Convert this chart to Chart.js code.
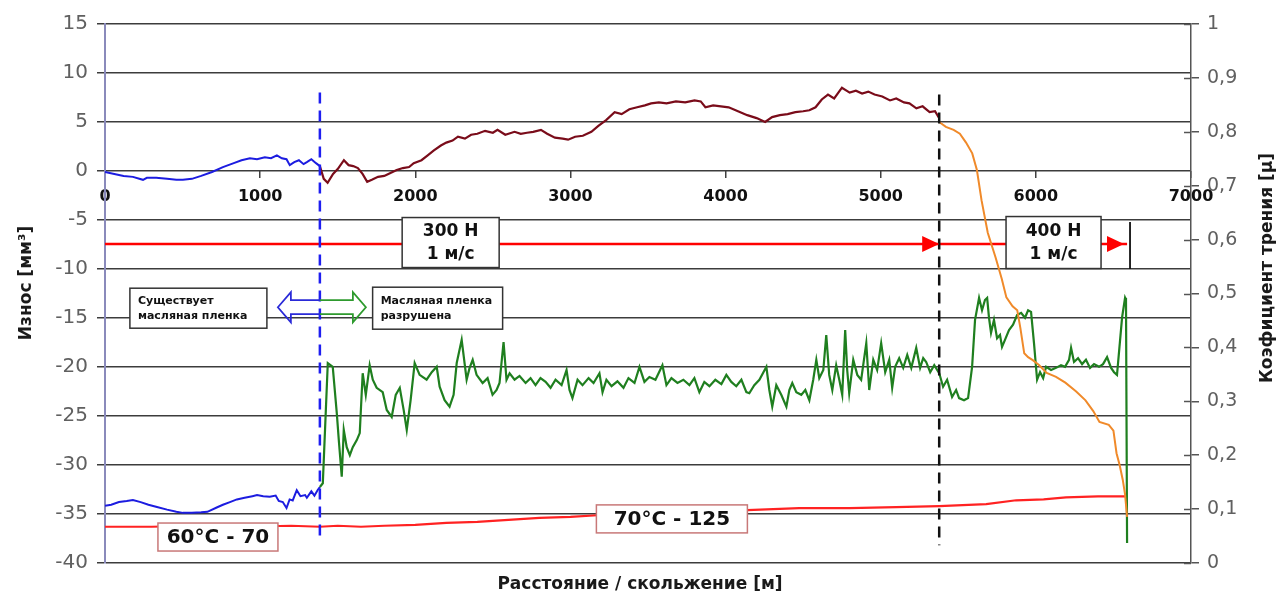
<!DOCTYPE html>
<html>
<head>
<meta charset="utf-8">
<script src="https://cdn.jsdelivr.net/npm/chart.js@4.4.1/dist/chart.umd.min.js"></script>
<style>
  html, body { margin: 0; padding: 0; background: #fff; }
  canvas { display: block; }
</style>
</head>
<body>
<canvas id="chart" width="1285" height="599"></canvas>
<script>
// износ (левая ось), мм³
const wearBlueX = [0, 60, 120, 180, 245, 270, 330, 400, 460, 502, 560, 620, 690, 760, 830, 880, 934, 980, 1030, 1070, 1108, 1140, 1170, 1191, 1220, 1250, 1280, 1301, 1330, 1360, 1385];
const wearBlueY = [-0.1, -0.3, -0.5, -0.6, -0.9, -0.7, -0.7, -0.8, -0.9, -0.9, -0.8, -0.5, -0.1, 0.4, 0.8, 1.1, 1.3, 1.2, 1.4, 1.3, 1.6, 1.3, 1.2, 0.6, 0.9, 1.1, 0.7, 0.9, 1.2, 0.8, 0.5];

const wearRedX = [1385, 1410, 1435, 1470, 1500, 1540, 1570, 1600, 1630, 1660, 1690, 1720, 1760, 1800, 1840, 1880, 1920, 1960, 1990, 2040, 2080, 2120, 2165, 2200, 2240, 2275, 2320, 2360, 2400, 2450, 2500, 2530, 2580, 2640, 2680, 2720, 2760, 2810, 2850, 2900, 2950, 2985, 3030, 3080, 3135, 3180, 3230, 3285, 3330, 3380, 3430, 3480, 3520, 3570, 3620, 3680, 3740, 3800, 3840, 3870, 3920, 3970, 4020, 4080, 4140, 4200, 4255, 4300, 4350, 4400, 4450, 4500, 4540, 4580, 4620, 4660, 4700, 4750, 4800, 4840, 4880, 4920, 4960, 5010, 5060, 5100, 5150, 5185, 5230, 5270, 5315, 5350, 5377];
const wearRedY = [0.5, -0.8, -1.2, -0.3, 0.2, 1.1, 0.6, 0.5, 0.3, -0.3, -1.1, -0.9, -0.6, -0.5, -0.2, 0.1, 0.3, 0.4, 0.8, 1.1, 1.6, 2.1, 2.6, 2.9, 3.1, 3.5, 3.3, 3.7, 3.8, 4.1, 3.9, 4.2, 3.7, 4.0, 3.8, 3.9, 4.0, 4.2, 3.8, 3.4, 3.3, 3.2, 3.5, 3.6, 4.0, 4.6, 5.2, 6.0, 5.8, 6.3, 6.5, 6.7, 6.9, 7.0, 6.9, 7.1, 7.0, 7.2, 7.1, 6.5, 6.7, 6.6, 6.5, 6.1, 5.7, 5.4, 5.0, 5.5, 5.7, 5.8, 6.0, 6.1, 6.2, 6.5, 7.3, 7.8, 7.4, 8.5, 8.0, 8.2, 7.9, 8.1, 7.8, 7.6, 7.2, 7.4, 7.0, 6.9, 6.4, 6.6, 6.0, 6.1, 5.4];

const wearOrangeX = [5377, 5420, 5470, 5510, 5550, 5590, 5620, 5650, 5690, 5740, 5780, 5810, 5850, 5880, 5900, 5925, 5950, 5980, 6020, 6070, 6130, 6190, 6260, 6320, 6370, 6410, 6470, 6500, 6520, 6540, 6560, 6575, 6588];
const wearOrangeY = [5.0, 4.5, 4.2, 3.8, 2.9, 1.8, 0.1, -3.0, -6.3, -8.8, -11.0, -12.9, -13.8, -14.2, -16.0, -18.6, -19.0, -19.3, -19.8, -20.6, -21.0, -21.6, -22.5, -23.4, -24.5, -25.6, -25.9, -26.5, -28.8, -30.0, -31.5, -33.0, -35.3];

// температура (левая ось)
const tempX = [0, 300, 600, 900, 1200, 1385, 1500, 1650, 1800, 2000, 2200, 2400, 2600, 2800, 3000, 3200, 3500, 3800, 4140, 4475, 4800, 5100, 5377, 5680, 5873, 6050, 6194, 6400, 6555, 6588];
const tempY = [-36.3, -36.3, -36.2, -36.3, -36.2, -36.3, -36.2, -36.3, -36.2, -36.1, -35.9, -35.8, -35.6, -35.4, -35.3, -35.1, -34.9, -34.8, -34.6, -34.4, -34.4, -34.3, -34.2, -34.0, -33.6, -33.5, -33.3, -33.2, -33.2, -33.2];

// коэффициент трения (правая ось)
const fricBlueX = [0, 40, 90, 140, 180, 230, 280, 335, 400, 460, 502, 560, 620, 660, 720, 760, 805, 850, 900, 950, 980, 1020, 1062, 1100, 1120, 1146, 1170, 1190, 1210, 1236, 1260, 1290, 1301, 1330, 1350, 1370, 1385];
const fricBlueY = [0.106, 0.108, 0.113, 0.115, 0.117, 0.113, 0.108, 0.104, 0.099, 0.095, 0.093, 0.093, 0.094, 0.095, 0.103, 0.108, 0.113, 0.118, 0.121, 0.124, 0.126, 0.124, 0.123, 0.125, 0.115, 0.113, 0.102, 0.118, 0.116, 0.135, 0.124, 0.126, 0.121, 0.133, 0.125, 0.135, 0.141];

const fricGreenX = [1385, 1404, 1436, 1468, 1494, 1507, 1526, 1539, 1558, 1578, 1597, 1623, 1642, 1661, 1681, 1706, 1726, 1751, 1790, 1816, 1848, 1874, 1900, 1925, 1945, 1970, 1996, 2028, 2073, 2106, 2138, 2157, 2189, 2221, 2247, 2267, 2299, 2331, 2350, 2370, 2395, 2434, 2466, 2498, 2524, 2543, 2569, 2588, 2608, 2640, 2672, 2711, 2743, 2775, 2807, 2840, 2872, 2904, 2943, 2975, 2994, 3013, 3046, 3078, 3117, 3149, 3187, 3207, 3232, 3265, 3303, 3342, 3374, 3413, 3445, 3477, 3509, 3548, 3593, 3619, 3651, 3690, 3728, 3767, 3799, 3831, 3863, 3896, 3934, 3973, 4005, 4037, 4069, 4102, 4134, 4153, 4185, 4218, 4263, 4282, 4301, 4327, 4359, 4392, 4411, 4430, 4456, 4488, 4514, 4540, 4565, 4585, 4604, 4630, 4649, 4668, 4688, 4713, 4733, 4752, 4771, 4784, 4797, 4823, 4849, 4874, 4907, 4926, 4952, 4977, 5003, 5029, 5055, 5074, 5093, 5119, 5145, 5171, 5197, 5229, 5254, 5274, 5293, 5319, 5345, 5377, 5402, 5428, 5460, 5486, 5505, 5537, 5563, 5589, 5608, 5634, 5653, 5672, 5686, 5698, 5711, 5730, 5750, 5769, 5782, 5801, 5827, 5853, 5879, 5905, 5930, 5950, 5969, 5988, 6008, 6027, 6047, 6066, 6098, 6130, 6162, 6188, 6214, 6227, 6246, 6272, 6298, 6323, 6349, 6375, 6407, 6433, 6459, 6485, 6504, 6523, 6543, 6556, 6568, 6575, 6581, 6588];
const fricGreenY = [0.141, 0.148, 0.371, 0.364, 0.278, 0.228, 0.160, 0.247, 0.215, 0.200, 0.215, 0.228, 0.241, 0.352, 0.312, 0.367, 0.340, 0.325, 0.317, 0.284, 0.271, 0.312, 0.325, 0.284, 0.247, 0.302, 0.371, 0.349, 0.340, 0.354, 0.364, 0.327, 0.302, 0.290, 0.312, 0.371, 0.414, 0.340, 0.362, 0.377, 0.349, 0.334, 0.343, 0.312, 0.321, 0.334, 0.410, 0.340, 0.352, 0.340, 0.347, 0.334, 0.343, 0.330, 0.343, 0.336, 0.325, 0.340, 0.330, 0.358, 0.321, 0.306, 0.340, 0.330, 0.343, 0.334, 0.352, 0.317, 0.340, 0.328, 0.337, 0.325, 0.343, 0.334, 0.364, 0.336, 0.345, 0.340, 0.367, 0.330, 0.343, 0.334, 0.340, 0.330, 0.343, 0.317, 0.336, 0.328, 0.340, 0.332, 0.349, 0.336, 0.328, 0.340, 0.317, 0.315, 0.330, 0.340, 0.364, 0.321, 0.290, 0.330, 0.312, 0.290, 0.321, 0.334, 0.317, 0.312, 0.321, 0.302, 0.340, 0.377, 0.343, 0.358, 0.423, 0.349, 0.321, 0.367, 0.340, 0.312, 0.432, 0.358, 0.315, 0.377, 0.349, 0.340, 0.408, 0.321, 0.377, 0.358, 0.408, 0.354, 0.377, 0.325, 0.364, 0.380, 0.362, 0.386, 0.362, 0.399, 0.362, 0.380, 0.373, 0.354, 0.367, 0.352, 0.327, 0.340, 0.308, 0.321, 0.306, 0.302, 0.306, 0.364, 0.451, 0.492, 0.469, 0.488, 0.492, 0.455, 0.427, 0.451, 0.417, 0.423, 0.401, 0.414, 0.432, 0.442, 0.460, 0.464, 0.455, 0.469, 0.466, 0.408, 0.340, 0.354, 0.343, 0.364, 0.358, 0.362, 0.367, 0.364, 0.377, 0.399, 0.373, 0.380, 0.369, 0.377, 0.362, 0.369, 0.364, 0.369, 0.382, 0.362, 0.354, 0.349, 0.414, 0.456, 0.479, 0.492, 0.488, 0.037];

// нагрузка и границы этапов (левая ось)
const loadLevel = -7.45;
const loadX = [0, 6588];
const loadArrowX = [5377, 6568];
const loadEndX = 6607;
const loadEndY = [-5.2, -10.0];
const filmBreakX = 1385;
const filmBreakY = [8.0, -37.7];
const stageBreakX = 5377;
const stageBreakY = [7.8, -38.2];

const xTicks = [0, 1000, 2000, 3000, 4000, 5000, 6000, 7000];

const loadBoxes = [
  { lines: ['300 Н', '1 м/с'], x: 2228, y: -7.3, w: 97, h: 50 },
  { lines: ['400 Н', '1 м/с'], x: 6114, y: -7.3, w: 95, h: 52 },
];
const filmBoxes = [
  { lines: ['Существует', 'масляная пленка'], x: 602, y: -14.0, w: 137, h: 40 },
  { lines: ['Масляная пленка', 'разрушена'], x: 2144, y: -14.0, w: 130, h: 42 },
];
const tempBoxes = [
  { text: '60°C - 70', x: 728, y: -37.35, w: 120, h: 28 },
  { text: '70°C - 125', x: 3654, y: -35.5, w: 151, h: 28 },
];
const filmArrowY = -13.9;

const pairs = (xs, ys) => xs.map((v, i) => ({ x: v, y: ys[i] }));
const line = (data, color, width, yAxisID, extra = {}) => ({
  data, borderColor: color, borderWidth: width, yAxisID,
  showLine: true, pointRadius: 0, tension: 0, fill: false, ...extra,
});

const FONT = 'DejaVu Sans';

const annotations = {
  id: 'annotations',
  afterDatasetsDraw(chart) {
    const { ctx, scales: { x, y, y1 } } = chart;
    ctx.save();

    // внутренние засечки правой оси
    ctx.strokeStyle = '#555';
    ctx.lineWidth = 1.5;
    y1.ticks.forEach(t => {
      const py = Math.round(y1.getPixelForValue(t.value)) + 0.5;
      ctx.beginPath();
      ctx.moveTo(y1.left - 7, py);
      ctx.lineTo(y1.left, py);
      ctx.stroke();
    });

    // стрелки на линии нагрузки
    const ly = y.getPixelForValue(loadLevel);
    ctx.fillStyle = '#ff0000';
    loadArrowX.forEach(ax => {
      const px = x.getPixelForValue(ax);
      ctx.beginPath();
      ctx.moveTo(px, ly);
      ctx.lineTo(px - 17, ly - 8);
      ctx.lineTo(px - 17, ly + 8);
      ctx.closePath();
      ctx.fill();
    });

    // рамки нагрузки
    loadBoxes.forEach(b => {
      const cx = x.getPixelForValue(b.x), cy = y.getPixelForValue(b.y);
      ctx.fillStyle = '#fff';
      ctx.fillRect(cx - b.w / 2, cy - b.h / 2, b.w, b.h);
      ctx.strokeStyle = '#333';
      ctx.lineWidth = 1.5;
      ctx.strokeRect(cx - b.w / 2, cy - b.h / 2, b.w, b.h);
      ctx.fillStyle = '#111';
      ctx.font = `bold 17px "${FONT}"`;
      ctx.textAlign = 'center';
      ctx.textBaseline = 'middle';
      ctx.fillText(b.lines[0], cx, cy - 11);
      ctx.fillText(b.lines[1], cx, cy + 12);
    });

    // рамки масляной пленки
    filmBoxes.forEach(b => {
      const cx = x.getPixelForValue(b.x), cy = y.getPixelForValue(b.y);
      ctx.fillStyle = '#fff';
      ctx.fillRect(cx - b.w / 2, cy - b.h / 2, b.w, b.h);
      ctx.strokeStyle = '#333';
      ctx.lineWidth = 1.5;
      ctx.strokeRect(cx - b.w / 2, cy - b.h / 2, b.w, b.h);
      ctx.fillStyle = '#111';
      ctx.font = `bold 11px "${FONT}"`;
      ctx.textAlign = 'left';
      ctx.textBaseline = 'middle';
      ctx.fillText(b.lines[0], cx - b.w / 2 + 8, cy - 7);
      ctx.fillText(b.lines[1], cx - b.w / 2 + 8, cy + 8);
    });

    // двойная стрелка
    const acx = x.getPixelForValue(filmBreakX), acy = y.getPixelForValue(filmArrowY);
    const L = acx - 42, R = acx + 46;
    const arrowPath = () => {
      ctx.beginPath();
      ctx.moveTo(L, acy);
      ctx.lineTo(L + 13, acy - 15); ctx.lineTo(L + 13, acy - 7);
      ctx.lineTo(R - 13, acy - 7); ctx.lineTo(R - 13, acy - 15);
      ctx.lineTo(R, acy);
      ctx.lineTo(R - 13, acy + 15); ctx.lineTo(R - 13, acy + 7);
      ctx.lineTo(L + 13, acy + 7); ctx.lineTo(L + 13, acy + 15);
      ctx.closePath();
    };
    ctx.lineWidth = 1.8;
    [['#2a2ad8', L - 5, acx], ['#2e9a2e', acx, R + 5]].forEach(([c, a, b]) => {
      ctx.save();
      ctx.beginPath();
      ctx.rect(a, acy - 20, b - a, 40);
      ctx.clip();
      arrowPath();
      ctx.strokeStyle = c;
      ctx.stroke();
      ctx.restore();
    });

    // рамки температуры
    tempBoxes.forEach(b => {
      const cx = x.getPixelForValue(b.x), cy = y.getPixelForValue(b.y);
      ctx.fillStyle = '#fff';
      ctx.fillRect(cx - b.w / 2, cy - b.h / 2, b.w, b.h);
      ctx.strokeStyle = '#c87878';
      ctx.lineWidth = 1.5;
      ctx.strokeRect(cx - b.w / 2, cy - b.h / 2, b.w, b.h);
      ctx.fillStyle = '#111';
      ctx.font = `bold 20px "${FONT}"`;
      ctx.textAlign = 'center';
      ctx.textBaseline = 'middle';
      ctx.fillText(b.text, cx, cy + 1);
    });

    ctx.restore();
  },
  afterDraw(chart) {
    const { ctx } = chart;
    ctx.save();
    ctx.fillStyle = '#1a1a1a';
    ctx.textAlign = 'center';
    ctx.textBaseline = 'middle';
    ctx.font = `bold 17px "${FONT}"`;
    ctx.fillText('Расстояние / скольжение [м]', 640, 585);

    ctx.save();
    ctx.translate(27, 283);
    ctx.rotate(-Math.PI / 2);
    ctx.fillText('Износ [мм³]', 0, 0);
    ctx.restore();

    ctx.save();
    ctx.translate(1268, 268);
    ctx.rotate(-Math.PI / 2);
    ctx.fillText('Коэфициент трения [μ]', 0, 0);
    ctx.restore();
    ctx.restore();
  },
};

new Chart(document.getElementById('chart'), {
  type: 'scatter',
  data: {
    datasets: [
      line(pairs([filmBreakX, filmBreakX], filmBreakY), '#1e1ef0', 2.5, 'y', { borderDash: [11, 7] }),
      line(pairs([stageBreakX, stageBreakX], stageBreakY), '#111', 2.5, 'y', { borderDash: [11, 7] }),
      line(pairs(wearOrangeX, wearOrangeY), '#f08a2a', 2, 'y'),
      line(pairs(fricGreenX, fricGreenY), '#1f7f1f', 2.2, 'y1'),
      line(pairs(tempX, tempY), '#ff2222', 2.2, 'y'),
      line(pairs(wearRedX, wearRedY), '#7a0c1a', 2.2, 'y'),
      line(pairs(wearBlueX, wearBlueY), '#1c1ce0', 2, 'y'),
      line(pairs(fricBlueX, fricBlueY), '#1c1ce0', 2, 'y1'),
      line(pairs(loadX, [loadLevel, loadLevel]), '#ff0000', 2.5, 'y'),
      line(pairs([loadEndX, loadEndX], loadEndY), '#111', 1.8, 'y'),
    ],
  },
  options: {
    responsive: false,
    animation: false,
    events: [],
    layout: { padding: { top: 24, bottom: 36, left: 0, right: 0 } },
    plugins: { legend: { display: false }, tooltip: { enabled: false } },
    scales: {
      x: {
        type: 'linear',
        position: { y: 0 },
        min: 0, max: 7000,
        afterBuildTicks: s => { s.ticks = xTicks.map(v => ({ value: v })); },
        ticks: {
          color: '#111', padding: 9, maxRotation: 0,
          font: { family: FONT, weight: 'bold', size: 16 },
          callback: v => String(v),
        },
        grid: { drawOnChartArea: false, tickLength: 7, color: '#404040', lineWidth: 1.5 },
        border: { display: false },
      },
      y: {
        position: 'left',
        min: -40, max: 15,
        ticks: { stepSize: 5, color: '#606060', padding: 9, font: { family: FONT, size: 20 }, callback: v => String(v) },
        grid: { color: '#3c3c3c', lineWidth: 1.5, tickLength: 8 },
        border: { color: '#8a8abb', width: 2 },
        afterFit: s => { s.width = 105; },
      },
      y1: {
        position: 'right',
        min: 0, max: 1,
        ticks: {
          stepSize: 0.1, color: '#606060', padding: 8, font: { family: FONT, size: 19 },
          callback: v => (v === 0 || v === 1) ? String(v) : v.toFixed(1).replace('.', ','),
        },
        grid: { drawOnChartArea: false, tickLength: 8, color: '#555', lineWidth: 1.5 },
        border: { color: '#555', width: 1.5 },
        afterFit: s => { s.width = 94; },
      },
    },
  },
  plugins: [annotations],
});
</script>
</body>
</html>
